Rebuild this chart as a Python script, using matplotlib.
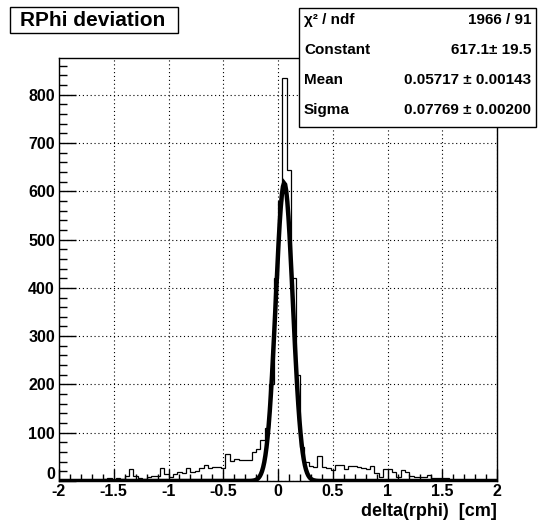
import numpy as np
import matplotlib
matplotlib.use("Agg")
import matplotlib.pyplot as plt
import matplotlib.transforms as mtransforms
from matplotlib.ticker import MultipleLocator
from matplotlib.patches import Rectangle

# histogram: 100 bins from -2 to 2
bin_edges = np.linspace(-2.0, 2.0, 101)
counts = [
    0, 1, 0, 1, 2, 1, 2, 3, 2, 3,
    4, 6, 3, 7, 5, 11, 24, 11, 6, 5,
    9, 10, 10, 26, 14, 8, 15, 19, 17, 26,
    19, 21, 26, 34, 26, 30, 28, 27, 56, 41,
    46, 44, 44, 44, 60, 66, 84, 110, 200, 420,
    580, 834, 645, 420, 220, 70, 40, 31, 30, 52,
    29, 27, 22, 34, 34, 25, 31, 31, 29, 26,
    25, 31, 16, 9, 24, 24, 19, 8, 22, 18,
    10, 9, 8, 9, 13, 7, 7, 7, 6, 3,
    2, 1, 3, 1, 2, 1, 1, 2, 1, 1,
]

# gaussian fit result
fit_const = 617.1
fit_mean = 0.05717
fit_sigma = 0.07769

stats_names = ["\u03c7\u00b2 / ndf", "Constant", "Mean", "Sigma"]
stats_values = ["1966 / 91", "617.1\u00b1 19.5", "0.05717 \u00b1 0.00143", "0.07769 \u00b1 0.00200"]

plt.rcParams["font.family"] = ["Liberation Sans", "DejaVu Sans"]
plt.rcParams["font.weight"] = "bold"

W, H = 539, 520
fig = plt.figure(figsize=(W / 100, H / 100), dpi=100)
ax = fig.add_axes([59 / W, 1 - 481 / H, (497 - 59) / W, (481 - 58) / H])

ax.stairs(counts, bin_edges, color="black", linewidth=0.9, baseline=0)

xf = np.linspace(-2, 2, 400)
yf = fit_const * np.exp(-0.5 * ((xf - fit_mean) / fit_sigma) ** 2)
ax.plot(xf, yf, color="black", linewidth=3.2, solid_joinstyle="miter")

ax.set_xlim(-2, 2)
ax.set_ylim(0, 876)
ax.xaxis.set_major_locator(MultipleLocator(0.5))
ax.xaxis.set_minor_locator(MultipleLocator(0.1))
ax.yaxis.set_major_locator(MultipleLocator(100))
ax.yaxis.set_minor_locator(MultipleLocator(20))
ax.xaxis.set_major_formatter(plt.FuncFormatter(lambda v, p: "%g" % v))

ax.tick_params(which="both", direction="in", top=False, right=False,
               labelsize=11.5, width=1.0, color="black")
ax.tick_params(axis="y", which="major", length=12)
ax.tick_params(axis="y", which="minor", length=6)
ax.tick_params(axis="x", which="major", length=9)
ax.tick_params(axis="x", which="minor", length=5)
ax.tick_params(axis="x", pad=2)
ax.tick_params(axis="y", pad=3)

fig.canvas.draw()
for lab in ax.get_xticklabels() + ax.get_yticklabels():
    lab.set_fontweight("bold")
# ROOT puts the y "0" a bit above the axis
for lab in ax.get_yticklabels():
    if lab.get_text() == "0":
        lab.set_transform(lab.get_transform() + mtransforms.ScaledTranslation(0, 6 / 72, fig.dpi_scale_trans))

ax.grid(True, which="major", color="black", linestyle=(0, (1, 2.5)), linewidth=0.8)
for s in ax.spines.values():
    s.set_linewidth(1.0)

ax.set_xlabel("delta(rphi)  [cm]", fontsize=13, fontweight="bold", loc="right", labelpad=3)

# title box
fig.text(20 / W, 1 - 20 / H, "RPhi deviation", fontsize=15, fontweight="bold",
         va="center", ha="left")
fig.patches.append(Rectangle((10 / W, 1 - 33 / H), 168 / W, 26 / H, transform=fig.transFigure,
                             facecolor="white", edgecolor="black", linewidth=1.0, zorder=0))

# stats box
fig.patches.append(Rectangle((299 / W, 1 - 127 / H), 237 / W, 119 / H, transform=fig.transFigure,
                             facecolor="white", edgecolor="black", linewidth=1.0, zorder=5))
rows_y = [20, 50, 80, 110]
for name, val, yy in zip(stats_names, stats_values, rows_y):
    fig.text(304 / W, 1 - yy / H, name, fontsize=11, fontweight="bold", va="center", ha="left", zorder=6)
    fig.text(531 / W, 1 - yy / H, val, fontsize=11, fontweight="bold", va="center", ha="right", zorder=6)

fig.savefig("out.png", dpi=100)
